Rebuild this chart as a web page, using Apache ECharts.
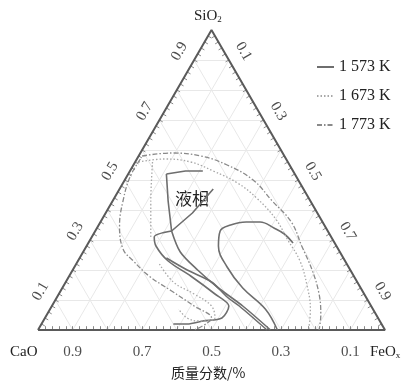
<!DOCTYPE html>
<html><head><meta charset="utf-8">
<script src="https://cdn.jsdelivr.net/npm/echarts@6/dist/echarts.min.js"></script>
<style>html,body{margin:0;padding:0;background:#fff}#c{width:412px;height:383px}</style>
</head><body><div id="c"></div>
<script>
// ---- data: points as [SiO2, FeOx] mass fractions (CaO = 1 - SiO2 - FeOx) ----
const leftTicks = [0.9, 0.7, 0.5, 0.3, 0.1];     // SiO2
const rightTicks = [0.1, 0.3, 0.5, 0.7, 0.9];    // FeOx
const bottomTicks = [0.9, 0.7, 0.5, 0.3, 0.1];   // CaO
const seriesNames = ['1 573 K', '1 673 K', '1 773 K'];

// 1 573 K (solid)
const k1573_top = [[0.53,0.21],[0.53,0.16],[0.52,0.11]];
const k1573_left = [[0.52,0.11],[0.43,0.16],[0.33,0.22]];
const k1573_diag = [[0.47,0.27],[0.39,0.25],[0.33,0.22]];
const k1573_loop = [[0.33,0.22],[0.31,0.18],[0.28,0.20],[0.23,0.26],[0.18,0.35],[0.12,0.45],[0.08,0.51],[0.04,0.51],[0.03,0.46],[0.02,0.42],[0.02,0.38]];
const k1573_lineA = [[0.24,0.25],[0.20,0.33],[0.16,0.42],[0.11,0.49],[0.08,0.54],[0.00,0.66]];
const k1573_lineB = [[0.33,0.22],[0.26,0.28],[0.20,0.36],[0.14,0.45],[0.08,0.55],[0.00,0.67]];
const k1573_arch = [[0.00,0.69],[0.07,0.62],[0.14,0.52],[0.21,0.44],[0.28,0.38],[0.33,0.36],[0.35,0.38],[0.36,0.42],[0.36,0.46],[0.34,0.51],[0.32,0.55],[0.29,0.59]];
// 1 673 K (dotted)
const k1673_outer = [[0.56,0.01],[0.57,0.08],[0.56,0.16],[0.53,0.24],[0.49,0.33],[0.44,0.41],[0.37,0.50],[0.30,0.57],[0.23,0.64],[0.15,0.70],[0.07,0.75],[0.00,0.78]];
const k1673_vert = [[0.56,0.05],[0.43,0.11],[0.31,0.17]];
const k1673_inner = [[0.22,0.24],[0.16,0.31],[0.12,0.39],[0.08,0.46],[0.04,0.49],[0.03,0.45],[0.04,0.41],[0.07,0.37]];
// 1 773 K (dash-dot)
const k1773_outer = [[0.58,0.01],[0.59,0.09],[0.58,0.18],[0.55,0.27],[0.50,0.37],[0.43,0.46],[0.36,0.55],[0.28,0.62],[0.20,0.69],[0.12,0.75],[0.05,0.79],[0.00,0.81]];
const k1773_left = [[0.57,0.01],[0.51,0.01],[0.43,0.03],[0.35,0.06],[0.27,0.11],[0.23,0.16],[0.18,0.23],[0.13,0.32],[0.08,0.41],[0.04,0.48],[0.00,0.45]];

// ---- geometry helpers ----
const SQ = Math.sqrt(3) / 2;
function pt(s, f) { return [f + s / 2, s * SQ]; }
function conv(arr) { return arr.map(p => pt(p[0], p[1])); }

const FONT = 'Liberation Serif';
const styles = {
  '1 573 K': {color: '#6e6e6e', width: 1.6, type: 'solid'},
  '1 673 K': {color: '#a8a8a8', width: 1.3, type: [1.5, 2]},
  '1 773 K': {color: '#8a8a8a', width: 1.3, type: [5, 2, 1.5, 2]}
};
function curve(name, arr, smooth) {
  const st = styles[name];
  return {type: 'line', name: name, data: conv(arr), symbol: 'none', smooth: smooth,
    lineStyle: {color: st.color, width: st.width, type: st.type}, itemStyle: {color: st.color}, z: 5, silent: true};
}

// grid lines (every 0.1) and ticks (every 0.02)
const gridSegs = [];
for (let i = 1; i < 10; i++) {
  const v = i / 10;
  gridSegs.push({coords: [pt(v, 0), pt(v, 1 - v)]});
  gridSegs.push({coords: [pt(0, v), pt(1 - v, v)]});
  gridSegs.push({coords: [pt(0, 1 - v), pt(1 - v, 0)]});
}
const tickSegs = [];
const tl = 0.011;
for (let i = 1; i < 50; i++) {
  const v = i / 50;
  tickSegs.push({coords: [pt(0, v), [v, tl]]});
  const L = pt(v, 0); tickSegs.push({coords: [L, [L[0] + tl * SQ, L[1] - tl * 0.5]]});
  const R = pt(1 - v, v); tickSegs.push({coords: [R, [R[0] - tl * SQ, R[1] - tl * 0.5]]});
}
const edge = [pt(0, 0), pt(0, 1), pt(1, 0), pt(0, 0)];

const off = 17 / 347;
const leftLab = leftTicks.map(v => { const p = pt(v, 0); return {value: [p[0] - off * SQ, p[1] + off * 0.5], name: v.toFixed(1)}; });
const rightLab = rightTicks.map(v => { const p = pt(1 - v, v); return {value: [p[0] + off * SQ, p[1] + off * 0.5], name: v.toFixed(1)}; });
const botLab = bottomTicks.map(v => ({value: [1 - v, -22 / 347], name: v.toFixed(1)}));

function labelSeries(data, rot) {
  return {type: 'scatter', data: data, symbolSize: 0, silent: true, z: 6, clip: false,
    label: {show: true, position: 'inside', formatter: p => p.name, rotate: rot,
      fontFamily: FONT, fontSize: 15, color: '#222'}};
}

const chart = echarts.init(document.getElementById('c'), null, {renderer: 'canvas'});
chart.setOption({
  animation: false,
  backgroundColor: '#fff',
  grid: {left: 38, top: 30, width: 347, height: 300},
  xAxis: {type: 'value', min: 0, max: 1, show: false},
  yAxis: {type: 'value', min: 0, max: SQ, show: false},
  legend: {data: seriesNames, orient: 'vertical', left: 311, top: 54, itemGap: 13, itemWidth: 17, itemHeight: 15,
    itemStyle: {opacity: 0},
    textStyle: {fontFamily: FONT, fontSize: 16, color: '#222'}},
  series: [
    {type: 'lines', coordinateSystem: 'cartesian2d', data: gridSegs, silent: true, z: 1,
      lineStyle: {color: '#e8e8e8', width: 1, opacity: 1}},
    {type: 'lines', coordinateSystem: 'cartesian2d', data: tickSegs, silent: true, z: 2,
      lineStyle: {color: '#888', width: 1, opacity: 1}},
    {type: 'line', data: edge, symbol: 'none', silent: true, z: 4, lineStyle: {color: '#5a5a5a', width: 2}},
    curve('1 573 K', k1573_top, false),
    curve('1 573 K', k1573_left, false),
    curve('1 573 K', k1573_diag, false),
    curve('1 573 K', k1573_loop, 0.3),
    curve('1 573 K', k1573_lineA, 0.3),
    curve('1 573 K', k1573_lineB, 0.3),
    curve('1 573 K', k1573_arch, 0.4),
    curve('1 673 K', k1673_outer, 0.4),
    curve('1 673 K', k1673_vert, 0.3),
    curve('1 673 K', k1673_inner, 0.4),
    curve('1 773 K', k1773_outer, 0.4),
    curve('1 773 K', k1773_left, 0.4),
    labelSeries(leftLab, 60),
    labelSeries(rightLab, -60),
    labelSeries(botLab, 0)
  ],
  graphic: [
    {type: 'text', left: 194, top: 9, style: {text: '{a|SiO}{b|2}', rich: {a: {fontFamily: FONT, fontSize: 15, fill: '#222'}, b: {fontFamily: FONT, fontSize: 9, fill: '#222', padding: [7, 0, 0, 0]}}}},
    {type: 'text', left: 10, top: 345, style: {text: 'CaO', font: '15px "Liberation Serif"', fill: '#222'}},
    {type: 'text', left: 370, top: 345, style: {text: '{a|FeO}{b|x}', rich: {a: {fontFamily: FONT, fontSize: 15, fill: '#222'}, b: {fontFamily: FONT, fontSize: 9, fill: '#222', padding: [7, 0, 0, 0]}}}},
    {type: 'text', left: 171, top: 366, style: {text: '质量分数/%', font: '14px "Noto Sans CJK SC"', fill: '#222'}},
    {type: 'text', left: 175, top: 190, style: {text: '液相', font: '17px "Noto Sans CJK SC"', fill: '#222'}}
  ]
});
</script></body></html>
